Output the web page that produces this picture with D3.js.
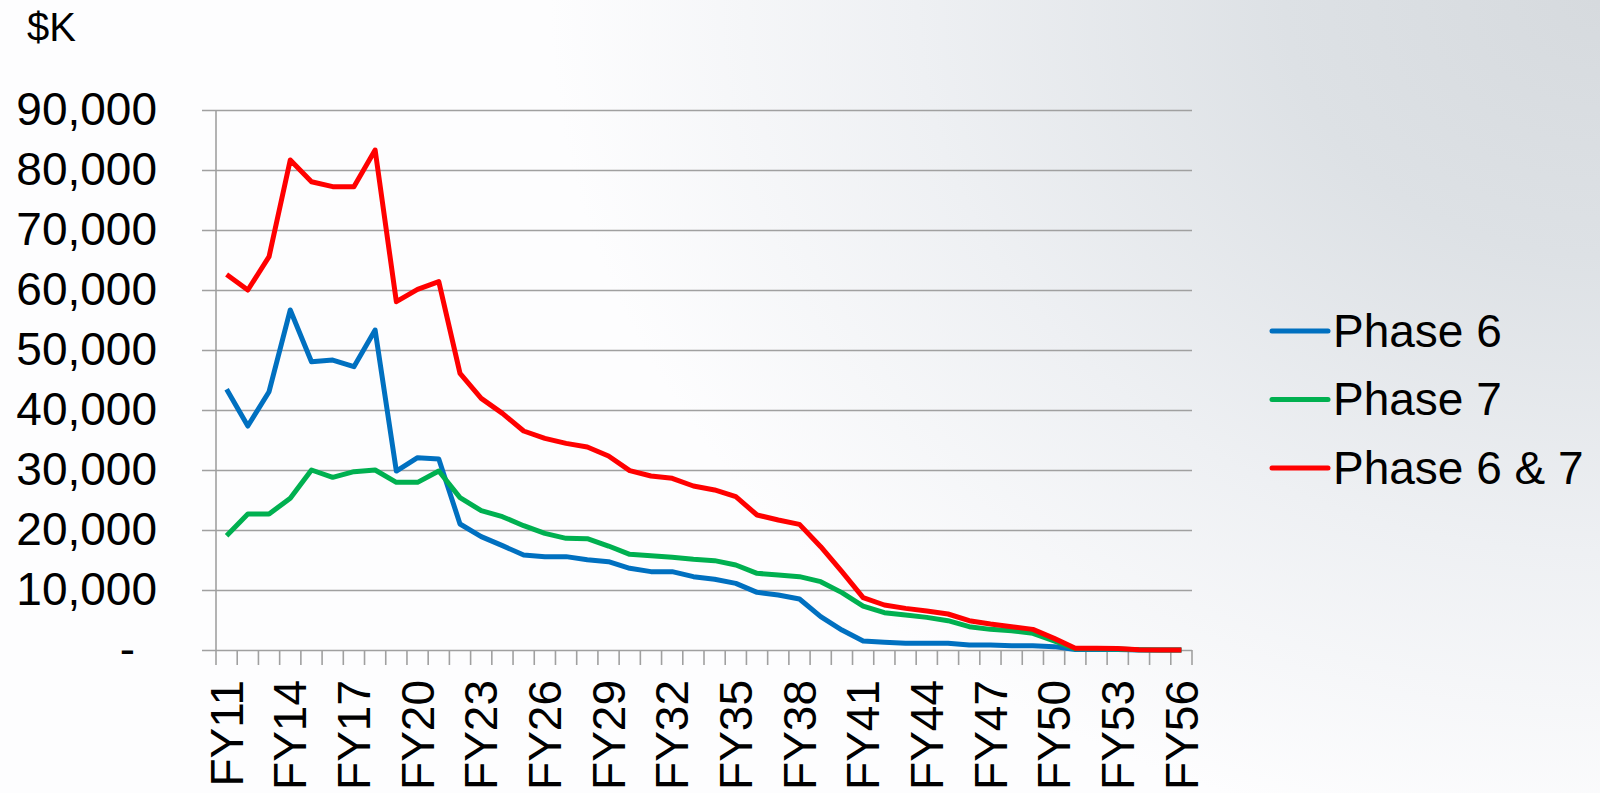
<!DOCTYPE html>
<html>
<head>
<meta charset="utf-8">
<script src="https://cdn.jsdelivr.net/npm/d3@7"></script>
<style>
  html, body { margin: 0; padding: 0; background: #fff; }
  svg { display: block; }
  text { font-family: "Liberation Sans", Arial, sans-serif; fill: #000; }
</style>
</head>
<body>
<svg id="chart" width="1600" height="793"></svg>
<script>
// ---- data ----
const categories = d3.range(11, 57).map(n => "FY" + n);
const phase6 = [43440, 37330, 43050, 56670, 48050, 48330, 47220, 53330, 29830, 32050,
  31830, 21000, 18890, 17390, 15830, 15560, 15560, 15050, 14720, 13610,
  13060, 13060, 12220, 11780, 11110, 9610, 9170, 8500, 5560, 3330,
  1500, 1280, 1110, 1110, 1110, 830, 830, 720, 720, 560,
  100, 100, 100, 0, 0, 0];
const phase7 = [19050, 22670, 22670, 25280, 30000, 28780, 29720, 30000, 27940, 27940,
  29830, 25390, 23220, 22220, 20720, 19440, 18610, 18550, 17330, 15940,
  15720, 15440, 15110, 14890, 14170, 12780, 12500, 12220, 11390, 9560,
  7330, 6220, 5830, 5440, 4890, 3890, 3440, 3220, 2780, 1500,
  200, 200, 150, 50, 0, 0];
const phase67 = [62600, 60000, 65550, 81670, 78050, 77220, 77220, 83330, 58050, 60100,
  61400, 46110, 41940, 39440, 36500, 35280, 34440, 33840, 32330, 29890,
  29000, 28610, 27330, 26670, 25560, 22500, 21670, 20940, 17220, 13060,
  8720, 7500, 6940, 6500, 6000, 4890, 4330, 3890, 3440, 1940,
  300, 300, 250, 50, 0, 0];
const seriesNames = ["Phase 6", "Phase 7", "Phase 6 & 7"];
const seriesColors = ["#0070C0", "#00B050", "#FF0000"];
const yTicks = [0, 10000, 20000, 30000, 40000, 50000, 60000, 70000, 80000, 90000];
const yTickLabels = ["-", "10,000", "20,000", "30,000", "40,000", "50,000", "60,000", "70,000", "80,000", "90,000"];
const unitLabel = "$K";

const series = [phase6, phase7, phase67];

// ---- layout ----
const svg = d3.select("#chart");
const plotL = 216, plotR = 1192, plotT = 110, plotB = 650;

// background gradient
const defs = svg.append("defs");
const grad = defs.append("radialGradient")
  .attr("id", "bg").attr("gradientUnits", "userSpaceOnUse")
  .attr("cx", 1600).attr("cy", 0).attr("r", 1000)
  .attr("gradientTransform", "translate(1600,0) scale(1.05,0.85) translate(-1600,0)");
grad.append("stop").attr("offset", 0).attr("stop-color", "#d6dade");
grad.append("stop").attr("offset", 0.3).attr("stop-color", "#dde1e5");
grad.append("stop").attr("offset", 0.65).attr("stop-color", "#eef0f3");
grad.append("stop").attr("offset", 1).attr("stop-color", "#fdfdfe");
svg.append("rect").attr("width", 1600).attr("height", 793).attr("fill", "url(#bg)");

const x = d3.scaleBand().domain(categories).range([plotL, plotR]).padding(0);
const y = d3.scaleLinear().domain([0, 90000]).range([plotB, plotT]);
const cx = c => x(c) + x.bandwidth() / 2;

// y axis with gridlines
const yAxis = d3.axisLeft(y).tickValues(yTicks)
  .tickFormat((d, i) => yTickLabels[i])
  .tickSizeInner(-(plotR - plotL)).tickSizeOuter(0).tickPadding(59);
const gy = svg.append("g").attr("transform", `translate(${plotL},0)`).call(yAxis);
gy.select(".domain").remove();
gy.selectAll(".tick line").attr("x1", -14).attr("stroke", "#a0a0a0").attr("stroke-width", 1.6);
gy.selectAll(".tick text").attr("font-size", 46)
  .attr("font-family", "'Liberation Sans', Arial, sans-serif")
  .attr("fill", "#000")
  .attr("dx", d => d === 0 ? -22 : 0);

// vertical axis line
svg.append("line").attr("x1", plotL).attr("x2", plotL).attr("y1", plotT).attr("y2", plotB)
  .attr("stroke", "#a0a0a0").attr("stroke-width", 1.6);

// x axis ticks at category boundaries
const boundaries = categories.map(c => x(c)).concat([x(categories[categories.length - 1]) + x.bandwidth()]);
svg.append("g").selectAll("line").data(boundaries).join("line")
  .attr("x1", d => d).attr("x2", d => d).attr("y1", plotB).attr("y2", plotB + 15)
  .attr("stroke", "#a0a0a0").attr("stroke-width", 1.6);

// x labels every 3rd
svg.append("g").selectAll("text").data(categories.filter((c, i) => i % 3 === 0)).join("text")
  .attr("transform", c => `translate(${cx(c)},680) rotate(-90)`)
  .attr("text-anchor", "end").attr("dy", "0.35em")
  .attr("font-size", 46).text(c => c);

// lines
const line = d3.line().x((d, i) => cx(categories[i])).y(d => y(d));
svg.append("g").selectAll("path").data(series).join("path")
  .attr("d", d => line(d)).attr("fill", "none")
  .attr("stroke", (d, i) => seriesColors[i]).attr("stroke-width", 5)
  .attr("stroke-linejoin", "round").attr("stroke-linecap", "butt");

// unit label
svg.append("text").attr("x", 27).attr("y", 41).attr("font-size", 40).text(unitLabel);

// legend
const lg = svg.append("g").selectAll("g").data(seriesNames).join("g")
  .attr("transform", (d, i) => `translate(1272,${331 + i * 68.5})`);
lg.append("line").attr("x1", 0).attr("x2", 56).attr("y1", 0).attr("y2", 0)
  .attr("stroke", (d, i) => seriesColors[i]).attr("stroke-width", 5).attr("stroke-linecap", "round");
lg.append("text").attr("x", 61).attr("dy", "0.34em").attr("font-size", 46).text(d => d);
</script>
</body>
</html>
